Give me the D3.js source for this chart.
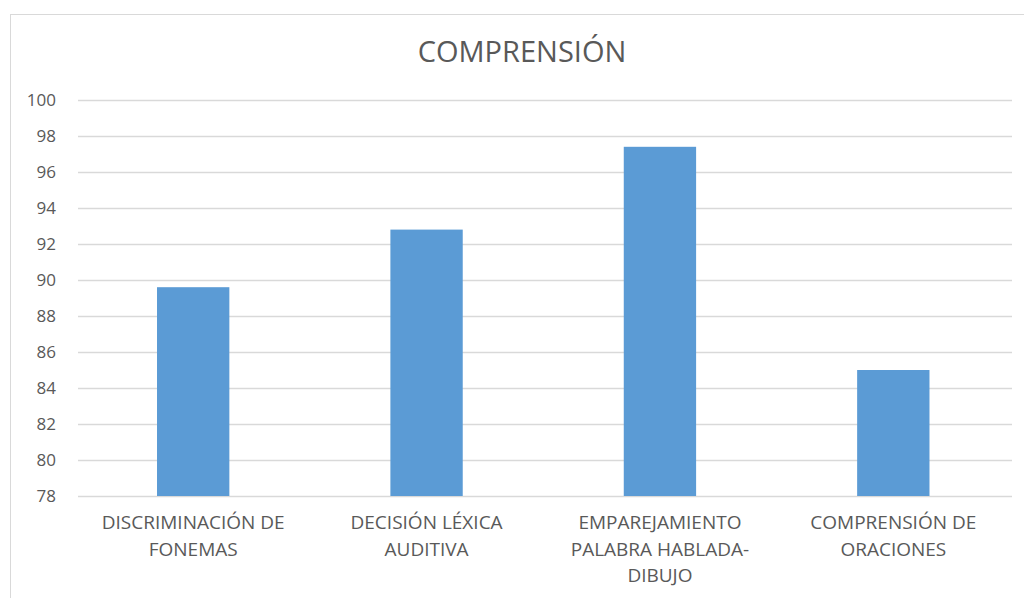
<!DOCTYPE html>
<html><head><meta charset="utf-8">
<script src="https://cdn.jsdelivr.net/npm/d3@7"></script>
<style>
html,body{margin:0;padding:0;background:#fff;}
svg{display:block;}
text{font-family:"Open Sans",sans-serif;fill:#595959;}
</style></head>
<body>
<svg id="chart" width="1024" height="598"></svg>
<script>
const title = "COMPRENSIÓN";
const categories = ["DISCRIMINACIÓN DE FONEMAS","DECISIÓN LÉXICA AUDITIVA","EMPAREJAMIENTO PALABRA HABLADA-DIBUJO","COMPRENSIÓN DE ORACIONES"];
const categoryLines = [["DISCRIMINACIÓN DE","FONEMAS"],["DECISIÓN LÉXICA","AUDITIVA"],["EMPAREJAMIENTO","PALABRA HABLADA-","DIBUJO"],["COMPRENSIÓN DE","ORACIONES"]];
const values = [89.6, 92.8, 97.4, 85.0];
const yTicks = [78,80,82,84,86,88,90,92,94,96,98,100];

const FONT = '"Open Sans",sans-serif';
const svg = d3.select("#chart");
// chart border
svg.append("rect").attr("x",10.5).attr("y",14.5).attr("width",1030).attr("height",600)
  .attr("fill","none").attr("stroke","#d9d9d9").attr("stroke-width",1);

const x = d3.scaleBand().domain(categories).range([76.5,1010]).paddingInner(0.69).paddingOuter(0.345);
const y = d3.scaleLinear().domain([78,100]).range([496,100]);

// gridlines
svg.append("g").selectAll("line").data(yTicks).join("line")
  .attr("x1",78).attr("x2",1012)
  .attr("y1",d=>Math.round(y(d))+0.5).attr("y2",d=>Math.round(y(d))+0.5)
  .attr("stroke","#d9d9d9").attr("stroke-width",1.3);

// y axis labels
const yAxis = d3.axisLeft(y).tickValues(yTicks).tickSize(0).tickPadding(0);
const ya = svg.append("g").attr("transform","translate(56,0)").call(yAxis);
ya.select(".domain").remove();
ya.selectAll("text").attr("font-size",17).style("font-family",FONT).attr("fill","#595959");

// bars
svg.append("g").selectAll("rect").data(values).join("rect")
  .attr("x",(d,i)=>x(categories[i]))
  .attr("width",x.bandwidth())
  .attr("y",d=>y(d))
  .attr("height",d=>y(78)-y(d))
  .attr("fill","#5b9bd5");

// x axis labels
const xa = svg.append("g").attr("transform","translate(0,496)").call(d3.axisBottom(x).tickSize(0).tickFormat(""));
xa.select(".domain").remove();
xa.selectAll(".tick").each(function(d,i){
  const t = d3.select(this).append("text").attr("text-anchor","middle").attr("font-size",19)
    .attr("fill","#595959").style("font-family",FONT);
  categoryLines[i].forEach((ln,j)=>{
    t.append("tspan").attr("x",0).attr("y",33+j*26.5).text(ln);
  });
});

// title
svg.append("text").attr("x",522).attr("y",62).attr("text-anchor","middle")
  .attr("font-size",29).text(title);
</script>
</body></html>
